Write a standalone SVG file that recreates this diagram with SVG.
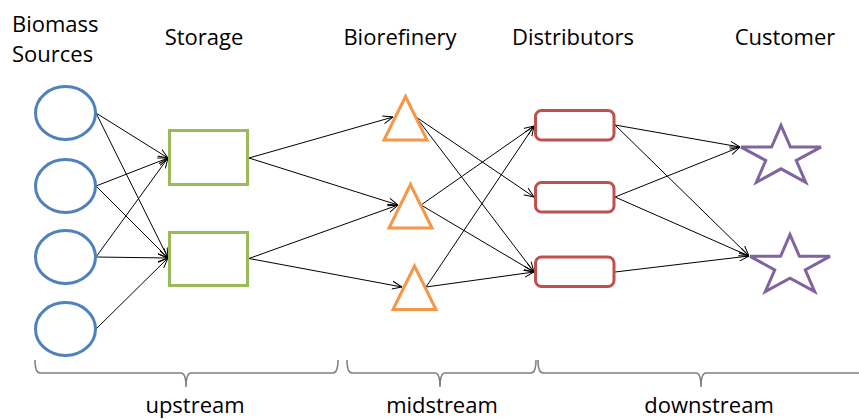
<svg xmlns="http://www.w3.org/2000/svg" width="859" height="419" viewBox="0 0 859 419">
  <style>
    .lbl { font-family: "Open Sans", "Liberation Sans", sans-serif; font-size: 22px; fill: #000; }
    .src { fill: #fff; stroke: #4F81BD; stroke-width: 3; }
    .sto { fill: #fff; stroke: #9BBB59; stroke-width: 3; }
    .ref { fill: #fff; stroke: #F79646; stroke-width: 3; stroke-linejoin: miter; }
    .dis { fill: #fff; stroke: #C0504D; stroke-width: 3; }
    .cus { fill: #fff; stroke: #8064A2; stroke-width: 3; }
    .edge { stroke: #000; stroke-width: 1; fill: none; marker-end: url(#arr); }
    .brace { stroke: #7F7F7F; stroke-width: 1.5; fill: none; }
  </style>
  <defs>
    <marker id="arr" viewBox="0 0 10 10" refX="10" refY="5" markerWidth="10" markerHeight="10" markerUnits="userSpaceOnUse" orient="auto">
      <path d="M0,1 L10,5 L0,9" fill="none" stroke="#000" stroke-width="1"/>
    </marker>
    <polygon id="star" points="0,-31.5 9.43,-9.73 39.94,-9.73 15.26,3.72 24.69,25.48 0,12.03 -24.69,25.48 -15.26,3.72 -39.94,-9.73 -9.43,-9.73"/>
  </defs>

  <g id="headers">
    <text class="lbl" x="12" y="31.5">Biomass</text>
    <text class="lbl" x="12" y="61.5">Sources</text>
    <text class="lbl" x="204" y="44.5" text-anchor="middle">Storage</text>
    <text class="lbl" x="400" y="44.5" text-anchor="middle">Biorefinery</text>
    <text class="lbl" x="573" y="44.5" text-anchor="middle">Distributors</text>
    <text class="lbl" x="785" y="44.5" text-anchor="middle">Customer</text>
  </g>

  <g id="connectors">
    <line class="edge" x1="96" y1="113" x2="168" y2="158"/>
    <line class="edge" x1="96" y1="113" x2="168" y2="258"/>
    <line class="edge" x1="96" y1="186" x2="168" y2="158"/>
    <line class="edge" x1="96" y1="186" x2="168" y2="258"/>
    <line class="edge" x1="96" y1="257" x2="168" y2="158"/>
    <line class="edge" x1="96" y1="257" x2="168" y2="258"/>
    <line class="edge" x1="96" y1="329" x2="168" y2="258"/>

    <line class="edge" x1="249" y1="158" x2="393" y2="117"/>
    <line class="edge" x1="249" y1="158" x2="398" y2="205"/>
    <line class="edge" x1="249" y1="258.5" x2="398" y2="205"/>
    <line class="edge" x1="249" y1="258.5" x2="402" y2="287"/>

    <line class="edge" x1="416" y1="117" x2="534" y2="197"/>
    <line class="edge" x1="416" y1="117" x2="534" y2="272"/>
    <line class="edge" x1="421" y1="205" x2="534" y2="126"/>
    <line class="edge" x1="421" y1="205" x2="534" y2="272"/>
    <line class="edge" x1="426" y1="287" x2="534" y2="126"/>
    <line class="edge" x1="426" y1="287" x2="534" y2="272"/>

    <line class="edge" x1="615" y1="125" x2="740" y2="147"/>
    <line class="edge" x1="615" y1="125" x2="749" y2="256"/>
    <line class="edge" x1="615" y1="197" x2="740" y2="147"/>
    <line class="edge" x1="615" y1="197" x2="749" y2="256"/>
    <line class="edge" x1="615" y1="272" x2="749" y2="256"/>
  </g>

  <g id="source1"><ellipse class="src" cx="65.5" cy="113" rx="30" ry="26.5"/></g>
  <g id="source2"><ellipse class="src" cx="65.5" cy="186" rx="30" ry="26.5"/></g>
  <g id="source3"><ellipse class="src" cx="65.5" cy="257" rx="30" ry="26.5"/></g>
  <g id="source4"><ellipse class="src" cx="65.5" cy="329" rx="30" ry="26.5"/></g>

  <g id="storage1"><rect class="sto" x="169.5" y="130.5" width="78" height="54"/></g>
  <g id="storage2"><rect class="sto" x="169.5" y="232.5" width="78" height="53"/></g>

  <g id="refinery1"><polygon class="ref" points="405.5,96.5 427,140 384,140"/></g>
  <g id="refinery2"><polygon class="ref" points="410.5,184.5 432,228 389,228"/></g>
  <g id="refinery3"><polygon class="ref" points="414.5,266 436,309.5 393,309.5"/></g>

  <g id="distributor1"><rect class="dis" x="535.5" y="110.5" width="78.5" height="29.5" rx="6"/></g>
  <g id="distributor2"><rect class="dis" x="535.5" y="182.5" width="78.5" height="29.5" rx="6"/></g>
  <g id="distributor3"><rect class="dis" x="535.5" y="257" width="78.5" height="29.5" rx="6"/></g>

  <g id="customer1"><use href="#star" class="cus" transform="translate(781,156.8)"/></g>
  <g id="customer2"><use href="#star" class="cus" transform="translate(790,266.1)"/></g>

  <g id="upstream">
    <path class="brace" d="M35,360 Q35,373 40,373 L181,373 Q186,373 186,387 Q186,373 191,373 L333,373 Q338,373 338,360"/>
    <text class="lbl" x="195" y="413" text-anchor="middle">upstream</text>
  </g>
  <g id="midstream">
    <path class="brace" d="M347,360 Q347,373 352,373 L435,373 Q440,373 440,387 Q440,373 445,373 L531,373 Q536,373 536,360"/>
    <text class="lbl" x="442" y="413" text-anchor="middle">midstream</text>
  </g>
  <g id="downstream">
    <path class="brace" d="M538,360 Q538,373 543,373 L696,373 Q701,373 701,387 Q701,373 706,373 L860,373"/>
    <text class="lbl" x="709" y="413" text-anchor="middle">downstream</text>
  </g>
</svg>
